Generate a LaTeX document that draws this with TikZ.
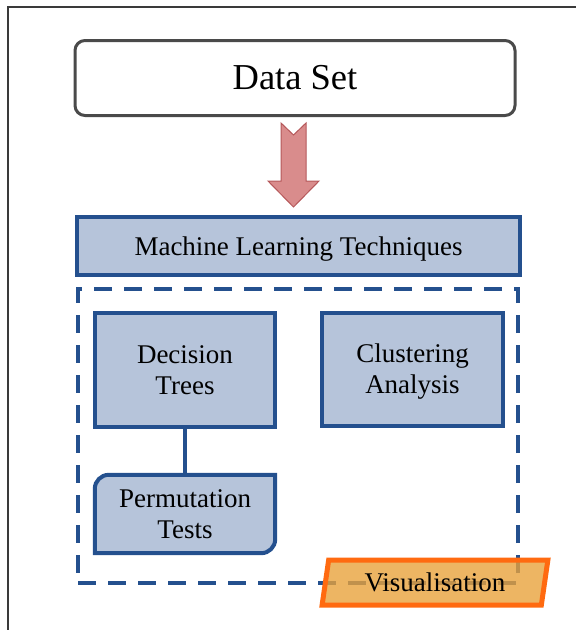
\documentclass[tikz,border=0pt]{standalone}
\usepackage{fontspec}
\setmainfont{Liberation Serif}
\usetikzlibrary{shapes.geometric,backgrounds}
\definecolor{FrameGray}{HTML}{3A3A3A}
\definecolor{SetGray}{HTML}{4A4A4A}
\definecolor{MlNavy}{HTML}{24508E}
\definecolor{MlFill}{HTML}{B6C4DA}
\definecolor{ArrowRed}{HTML}{B5585A}
\definecolor{ArrowFill}{HTML}{D98C8C}
\definecolor{VisOrange}{HTML}{FF6A10}
\definecolor{VisFill}{HTML}{E8A23C}

\begin{document}
\begin{tikzpicture}[x=1pt,y=-1pt,
  txt/.style={font=\fontsize{27}{31}\selectfont,align=center,text=black},
  mlbox/.style={txt,draw=MlNavy,fill=MlFill,line width=4pt,inner sep=0pt,text depth=0pt}]
  \useasboundingbox (0,0) rectangle (576,630);
  \draw[FrameGray,line width=2pt] (8,630)--(8,7)--(576,7);
  \node[draw=SetGray,line width=3pt,rounded corners=10pt,minimum width=440pt,minimum height=75pt,font=\fontsize{36.5}{40}\selectfont] (data) at (295,78) {Data Set};
  \draw[ArrowRed,fill=ArrowFill,line width=1pt] (281,123)--(293.5,135)--(306,123)--(306,181)--(319,181)--(293.5,207)--(268,181)--(281,181)--cycle;
  \node[mlbox,minimum width=443pt,minimum height=58pt] (ml) at (298.5,246) {Machine Learning Techniques};
  \node[draw=MlNavy,line width=4pt,dash pattern=on 18pt off 12pt,minimum width=440pt,minimum height=294pt] (group) at (298,436) {};
  \node[mlbox,minimum width=180pt,minimum height=114pt] (dt) at (185,370) {Decision\\Trees};
  \node[mlbox,minimum width=181pt,minimum height=113pt] (ca) at (412.5,369) {Clustering\\Analysis};
  \node[txt,minimum width=180pt,minimum height=78pt] (pt) at (185,514) {Permutation\\Tests};
  \begin{scope}[on background layer]
    \draw[MlNavy,fill=MlFill,line width=4pt] (pt.north west) -- (pt.north east) [rounded corners=14pt] -- (pt.south east) [sharp corners] -- (pt.south west) [rounded corners=14pt] -- cycle;
  \end{scope}
  \draw[MlNavy,line width=4pt] (dt) -- (pt);
  \node[txt,trapezium,trapezium left angle=80,trapezium right angle=100,trapezium stretches=true,draw=VisOrange,fill=VisFill,fill opacity=0.8,text opacity=1,line width=5pt,minimum width=226pt,minimum height=45pt] (vis) at (435,582.5) {Visualisation};
\end{tikzpicture}
\end{document}
